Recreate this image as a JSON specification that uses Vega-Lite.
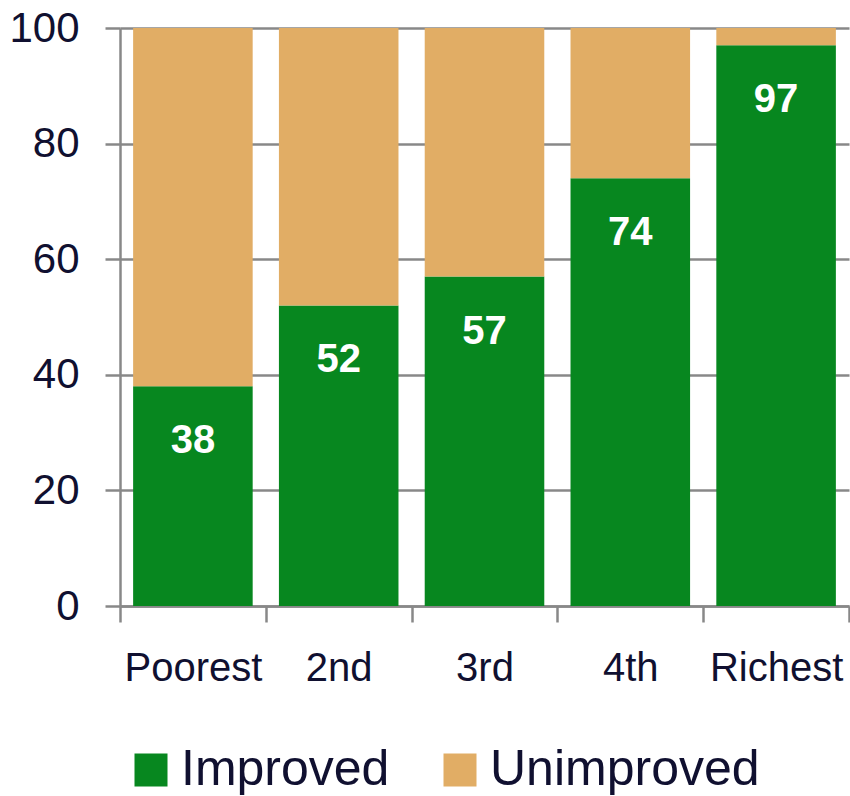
{
  "$schema": "https://vega.github.io/schema/vega-lite/v6.json",
  "autosize": "none",
  "padding": {"left": 120, "top": 28, "right": 1, "bottom": 190},
  "width": 729,
  "height": 578,
  "background": "white",
  "config": {
    "view": {"stroke": null},
    "font": "Liberation Sans",
    "axis": {"labelFont": "Liberation Sans", "labelColor": "#101030"},
    "legend": {"labelFont": "Liberation Sans", "labelColor": "#101030"}
  },
  "data": {
    "values": [
      {"quintile": "Poorest", "status": "Improved", "value": 38},
      {"quintile": "Poorest", "status": "Unimproved", "value": 62},
      {"quintile": "2nd", "status": "Improved", "value": 52},
      {"quintile": "2nd", "status": "Unimproved", "value": 48},
      {"quintile": "3rd", "status": "Improved", "value": 57},
      {"quintile": "3rd", "status": "Unimproved", "value": 43},
      {"quintile": "4th", "status": "Improved", "value": 74},
      {"quintile": "4th", "status": "Unimproved", "value": 26},
      {"quintile": "Richest", "status": "Improved", "value": 97},
      {"quintile": "Richest", "status": "Unimproved", "value": 3}
    ]
  },
  "encoding": {
    "x": {
      "field": "quintile",
      "type": "nominal",
      "sort": ["Poorest", "2nd", "3rd", "4th", "Richest"],
      "scale": {"paddingInner": 0, "paddingOuter": 0},
      "axis": {
        "title": null,
        "labelAngle": 0,
        "labelFontSize": 40,
        "labelPadding": 26,
        "tickBand": "extent",
        "tickSize": 16,
        "tickColor": "#888888",
        "tickWidth": 2.5,
        "domainColor": "#888888",
        "domainWidth": 2.5,
        "grid": false
      }
    }
  },
  "layer": [
    {
      "mark": {"type": "bar", "width": {"band": 0.82}},
      "encoding": {
        "y": {
          "field": "value",
          "type": "quantitative",
          "stack": "zero",
          "scale": {"domain": [0, 100], "nice": false},
          "axis": {
            "title": null,
            "values": [0, 20, 40, 60, 80, 100],
            "labelFontSize": 42,
            "labelPadding": 26,
            "tickSize": 15,
            "tickColor": "#888888",
            "tickWidth": 2.5,
            "domainColor": "#888888",
            "domainWidth": 2.5,
            "grid": true,
            "gridColor": "#888888",
            "gridWidth": 2.5
          }
        },
        "color": {
          "field": "status",
          "type": "nominal",
          "scale": {"domain": ["Improved", "Unimproved"], "range": ["#07871f", "#e1ad65"]},
          "legend": {
            "title": null,
            "orient": "none",
            "direction": "horizontal",
            "legendX": 6,
            "legendY": 717,
            "padding": 0,
            "symbolType": "square",
            "symbolSize": 1089,
            "symbolStrokeWidth": 0,
            "symbolOpacity": 1,
            "labelFontSize": 50,
            "labelLimit": 400,
            "labelOffset": 5,
            "columnPadding": 45
          }
        },
        "order": {"field": "status", "sort": "ascending"}
      }
    },
    {
      "transform": [{"filter": "datum.status === 'Improved'"}],
      "mark": {"type": "text", "color": "white", "fontWeight": "bold", "fontSize": 40, "baseline": "middle", "dy": 55},
      "encoding": {
        "y": {"field": "value", "type": "quantitative"},
        "text": {"field": "value", "type": "quantitative"}
      }
    }
  ]
}
